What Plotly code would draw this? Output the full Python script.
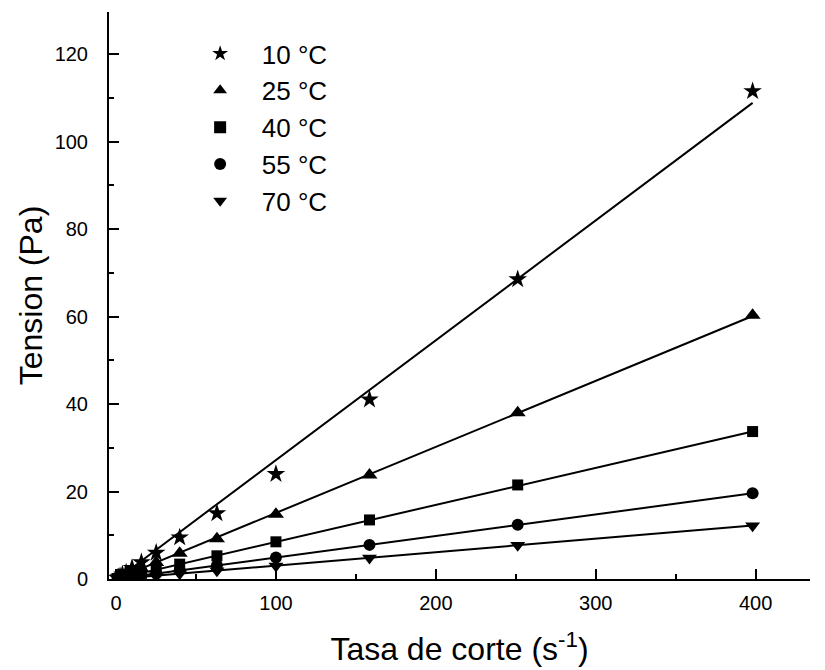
import plotly.graph_objects as go

shear_rate = [1.0, 1.585, 2.512, 3.981, 6.31, 10.0, 15.85, 25.12, 39.81, 63.1, 100.0, 158.5, 251.2, 398.1]

temps = ["10 °C", "25 °C", "40 °C", "55 °C", "70 °C"]
stress_10 = [0.25, 0.4, 0.6, 1.0, 1.5, 2.5, 3.8, 6.0, 9.5, 15.0, 24.0, 41.0, 68.5, 111.5]
stress_25 = [0.15, 0.25, 0.38, 0.6, 0.95, 1.5, 2.4, 3.8, 5.9, 9.2, 14.8, 23.8, 38.0, 60.3]
stress_40 = [0.08, 0.13, 0.21, 0.34, 0.53, 0.85, 1.3, 2.1, 3.4, 5.3, 8.5, 13.5, 21.5, 33.7]
stress_55 = [0.05, 0.08, 0.12, 0.2, 0.31, 0.5, 0.8, 1.25, 2.0, 3.1, 4.9, 7.8, 12.4, 19.6]
stress_70 = [0.03, 0.05, 0.08, 0.12, 0.19, 0.3, 0.48, 0.75, 1.2, 1.9, 3.0, 4.8, 7.7, 12.2]
series = [stress_10, stress_25, stress_40, stress_55, stress_70]

# linear fit parameters (slope, intercept)
fit_slope = [0.2739, 0.1510, 0.0847, 0.0492, 0.0307]
fit_intercept = [-0.2, 0.0, 0.0, 0.0, 0.0]
fit_x = [1.0, 398.1]

symbols = ["star", "triangle-up", "square", "circle", "triangle-down"]
sizes = [14, 14, 11, 12, 13]

fig = go.Figure()
for i, (name, ys) in enumerate(zip(temps, series)):
    fy = [fit_slope[i] * x + fit_intercept[i] for x in fit_x]
    fig.add_trace(go.Scatter(
        x=fit_x, y=fy, mode="lines",
        line=dict(color="black", width=2),
        showlegend=False, hoverinfo="skip"))
for i, (name, ys) in enumerate(zip(temps, series)):
    fig.add_trace(go.Scatter(
        x=shear_rate, y=ys, mode="markers",
        name="\u00a0\u00a0\u00a0" + name,
        legendgroup=name,
        marker=dict(symbol=symbols[i], size=sizes[i], color="black",
                    line=dict(width=0))))

font_family = "Arial, Liberation Sans, sans-serif"
fig.update_layout(
    width=825, height=670,
    margin=dict(l=109, r=15, t=12, b=91),
    plot_bgcolor="white", paper_bgcolor="white",
    font=dict(family=font_family, color="black", size=20),
    showlegend=True,
    legend=dict(
        x=0.13, y=0.968, xanchor="left", yanchor="top",
        font=dict(size=26, family=font_family),
        bgcolor="rgba(0,0,0,0)", borderwidth=0,
        tracegroupgap=0, itemsizing="constant",
    ),
    xaxis=dict(
        range=[-4.4, 434], showgrid=False, zeroline=False,
        showline=True, linecolor="black", linewidth=2,
        ticks="inside", ticklen=10, tickwidth=2, tickcolor="black",
        tickvals=[0, 100, 200, 300, 400], ticklabelstandoff=5,
        minor=dict(tickvals=[50, 150, 250, 350], ticks="inside", ticklen=5,
                   tickwidth=2, tickcolor="black"),
        tickfont=dict(size=20), automargin=False,
        title=dict(text="Tasa de corte (s<sup>-1</sup>)", font=dict(size=32), standoff=25),
    ),
    yaxis=dict(
        range=[0, 129.6], showgrid=False, zeroline=False,
        showline=True, linecolor="black", linewidth=2,
        ticks="inside", ticklen=10, tickwidth=2, tickcolor="black",
        tickvals=[0, 20, 40, 60, 80, 100, 120], ticklabelstandoff=15,
        minor=dict(tickvals=[10, 30, 50, 70, 90, 110], ticks="inside", ticklen=5,
                   tickwidth=2, tickcolor="black"),
        tickfont=dict(size=20), automargin=False,
        title=dict(text="Tension (Pa)", font=dict(size=32), standoff=2),
    ),
)

fig.write_html("out.html")
